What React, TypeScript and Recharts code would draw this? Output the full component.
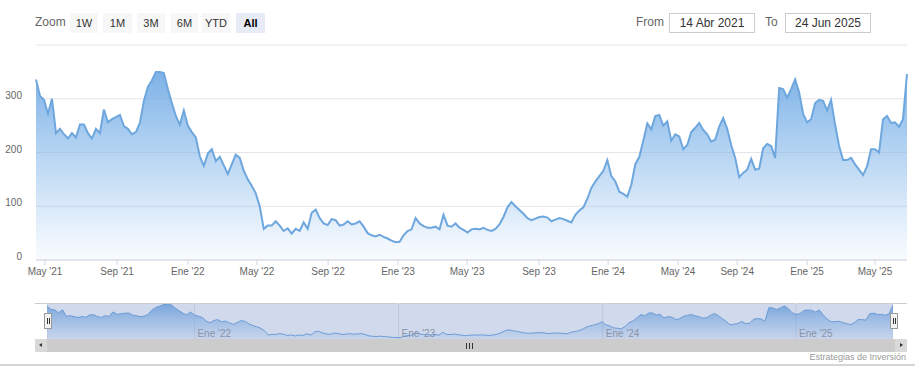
import React from "react";
import { AreaChart, Area, XAxis, YAxis, CartesianGrid } from "recharts";

// one value per trading week, 14 Abr 2021 .. 24 Jun 2025
const prices = [
  336, 305, 298, 272, 300, 236, 244, 234, 226, 236, 228, 252, 252, 236, 226, 244, 236, 280, 256, 262,
  266, 270, 249, 244, 234, 238, 255, 296, 322, 334, 350, 350, 348, 318, 292, 268, 252, 278, 250, 238,
  228, 193, 175, 198, 206, 184, 192, 176, 160, 178, 196, 190, 166, 150, 138, 124, 100, 58, 64, 64,
  72, 64, 54, 59, 49, 58, 54, 70, 58, 88, 94, 78, 68, 65, 76, 74, 64, 66, 72, 66,
  68, 72, 62, 50, 46, 44, 47, 43, 40, 36, 33, 34, 46, 54, 57, 78, 68, 63, 60, 60,
  62, 57, 84, 64, 62, 68, 60, 56, 51, 57, 58, 57, 60, 56, 54, 58, 66, 80, 98, 108,
  100, 93, 86, 78, 74, 77, 80, 81, 79, 72, 75, 78, 76, 73, 70, 84, 92, 98, 114, 134,
  146, 156, 166, 186, 156, 146, 127, 123, 118, 140, 178, 192, 222, 254, 243, 268, 270, 250, 258, 222,
  234, 230, 206, 214, 238, 246, 255, 242, 234, 220, 224, 248, 264, 244, 214, 190, 154, 162, 168, 188,
  168, 170, 208, 216, 212, 190, 320, 318, 302, 318, 336, 312, 272, 256, 262, 292, 298, 296, 278, 298,
  252, 212, 186, 186, 190, 178, 168, 158, 174, 206, 206, 200, 262, 268, 255, 256, 248, 262, 346,
];

// month ticks, placed on the week they fall in
const tickLabels = ["May '21", "Sep '21", "Ene '22", "May '22", "Sep '22", "Ene '23", "May '23", "Sep '23", "Ene '24", "May '24", "Sep '24", "Ene '25", "May '25"];
const tickWeeks = [2.25, 20.3, 38.0, 55.3, 73.1, 90.6, 107.9, 125.9, 143.2, 160.7, 175.5, 193.0, 210.0];
const navLabels = ["Ene '22", "Ene '23", "Ene '24", "Ene '25"];
const navWeeks = [38.0, 90.6, 143.2, 193.0];
const yTicks = [0, 100, 200, 300, 400];
const rangeButtons = ["1W", "1M", "3M", "6M", "YTD", "All"];
const fromDate = "14 Abr 2021";
const toDate = "24 Jun 2025";

const FONT = "'Liberation Sans', Arial, sans-serif";
const LINE = "#6ea6de";

const rows = prices.map((price, week) => ({ week, price }));
const lastWeek = prices.length - 1;

const labelFor = (w: number, labels: string[], weeks: number[]) => labels[weeks.indexOf(w)] ?? "";

function YTick({ y, payload }: any) {
  if (payload.value === 400) return <g />;
  return (
    <text x={22} y={y} textAnchor="end" fill="#666" fontSize={10} fontFamily={FONT}>
      {payload.value}
    </text>
  );
}

// navigator labels sit inside the strip, just right of each gridline
function NavTick({ x, payload }: any) {
  return (
    <text x={x + 3} y={34} fill="#999" fontSize={10} fontFamily={FONT}>
      {labelFor(payload.value, navLabels, navWeeks)}
    </text>
  );
}

const btnLeft = [70, 103, 137, 171, 202, 236];
const btnWidth = [28, 29, 28, 27, 28, 29];

export default function App() {
  return (
    <div style={{ position: "absolute", left: 0, top: 0, width: 915, height: 385, background: "#fff", fontFamily: FONT, overflow: "hidden" }}>
      {/* range selector */}
      <div style={{ position: "absolute", left: 35, top: 15, fontSize: 12, color: "#666" }}>Zoom</div>
      {rangeButtons.map((b, i) => (
        <div
          key={b}
          style={{
            position: "absolute",
            left: btnLeft[i],
            top: 13,
            width: btnWidth[i],
            height: 20,
            lineHeight: "20px",
            textAlign: "center",
            fontSize: 11,
            color: b === "All" ? "#000" : "#333",
            fontWeight: b === "All" ? "bold" : "normal",
            background: b === "All" ? "#e6ebf5" : "#f7f7f7",
          }}
        >
          {b}
        </div>
      ))}
      <div style={{ position: "absolute", left: 636, top: 15, fontSize: 12, color: "#666" }}>From</div>
      <div style={{ position: "absolute", left: 669, top: 13, width: 84, height: 18, border: "1px solid #ccc", lineHeight: "18px", textAlign: "center", fontSize: 12, color: "#333" }}>
        {fromDate}
      </div>
      <div style={{ position: "absolute", left: 765, top: 15, fontSize: 12, color: "#666" }}>To</div>
      <div style={{ position: "absolute", left: 785, top: 13, width: 84, height: 18, border: "1px solid #ccc", lineHeight: "18px", textAlign: "center", fontSize: 12, color: "#333" }}>
        {toDate}
      </div>

      {/* main chart */}
      <div style={{ position: "absolute", left: 0, top: 0 }}>
        <AreaChart width={915} height={290} data={rows} margin={{ top: 45, right: 8, left: 0, bottom: 0 }}>
          <defs>
            <linearGradient id="priceFill" x1="0" y1="0" x2="0" y2="1">
              <stop offset="0%" stopColor="#6fa9e4" stopOpacity={0.9} />
              <stop offset="100%" stopColor="#7cb5ec" stopOpacity={0.04} />
            </linearGradient>
          </defs>
          <CartesianGrid vertical={false} stroke="#e6e6e6" />
          <XAxis
            dataKey="week"
            type="number"
            domain={[0, lastWeek]}
            ticks={tickWeeks}
            tickFormatter={(w: number) => labelFor(w, tickLabels, tickWeeks)}
            height={30}
            axisLine={{ stroke: "#d0d6e2" }}
            tickLine={{ stroke: "#d0d6e2" }}
            tickSize={5}
            tickMargin={3}
            tick={{ fill: "#666", fontSize: 10, fontFamily: FONT }}
            interval={0}
          />
          <YAxis
            domain={[0, 400]}
            ticks={yTicks}
            width={36}
            axisLine={false}
            tickLine={false}
            tick={<YTick />}
          />
          <Area
            type="linear"
            dataKey="price"
            stroke={LINE}
            strokeWidth={2}
            fill="url(#priceFill)"
            fillOpacity={1}
            dot={false}
            activeDot={false}
            isAnimationActive={false}
          />
        </AreaChart>
      </div>

      {/* navigator */}
      <div style={{ position: "absolute", left: 35, top: 303, width: 872, height: 1, background: "#cccccc" }} />
      <div style={{ position: "absolute", left: 47, top: 303 }}>
        <AreaChart width={846} height={37} data={rows} margin={{ top: 0, right: 0, left: 0, bottom: 0 }}>
          <defs>
            <linearGradient id="navFill" x1="0" y1="0" x2="0" y2="1">
              <stop offset="0%" stopColor="#6fa9e4" stopOpacity={0.85} />
              <stop offset="100%" stopColor="#7cb5ec" stopOpacity={0.1} />
            </linearGradient>
          </defs>
          <CartesianGrid horizontal={false} stroke="#e6e6e6" />
          <XAxis
            dataKey="week"
            type="number"
            domain={[0, lastWeek]}
            ticks={navWeeks}
            height={1}
            axisLine={false}
            tickLine={false}
            tickSize={0}
            tickMargin={0}
            tick={<NavTick />}
            interval={0}
          />
          <YAxis hide domain={[20, 365]} />
          <Area
            type="linear"
            dataKey="price"
            stroke={LINE}
            strokeWidth={1}
            fill="url(#navFill)"
            fillOpacity={1}
            dot={false}
            activeDot={false}
            isAnimationActive={false}
          />
        </AreaChart>
      </div>
      <div style={{ position: "absolute", left: 47, top: 304, width: 846, height: 35, background: "rgba(102,133,194,0.3)" }} />
      {[44, 890].map((l) => (
        <div key={l} style={{ position: "absolute", left: l, top: 313, width: 6, height: 14, background: "#f2f2f2", border: "1px solid #999" }}>
          <div style={{ position: "absolute", left: 1.5, top: 4, width: 1, height: 6, background: "#333" }} />
          <div style={{ position: "absolute", left: 3.5, top: 4, width: 1, height: 6, background: "#333" }} />
        </div>
      ))}

      {/* scrollbar */}
      <div style={{ position: "absolute", left: 35, top: 339, width: 872, height: 13, background: "#cccccc" }} />
      <div style={{ position: "absolute", left: 35, top: 339, width: 12, height: 13, background: "#d9d9d9" }}>
        <div style={{ position: "absolute", left: 4, top: 4, width: 0, height: 0, borderTop: "2.5px solid transparent", borderBottom: "2.5px solid transparent", borderRight: "3px solid #333" }} />
      </div>
      <div style={{ position: "absolute", left: 895, top: 339, width: 12, height: 13, background: "#d9d9d9" }}>
        <div style={{ position: "absolute", left: 5, top: 4, width: 0, height: 0, borderTop: "2.5px solid transparent", borderBottom: "2.5px solid transparent", borderLeft: "3px solid #333" }} />
      </div>
      {[466, 469, 472].map((l) => (
        <div key={l} style={{ position: "absolute", left: l, top: 343, width: 1, height: 6, background: "#333" }} />
      ))}

      {/* credits */}
      <div style={{ position: "absolute", right: 9, top: 352, fontSize: 9, color: "#999" }}>Estrategias de Inversión</div>
      <div style={{ position: "absolute", left: 0, top: 364, width: 915, height: 2, background: "#d6d6d6" }} />
    </div>
  );
}
